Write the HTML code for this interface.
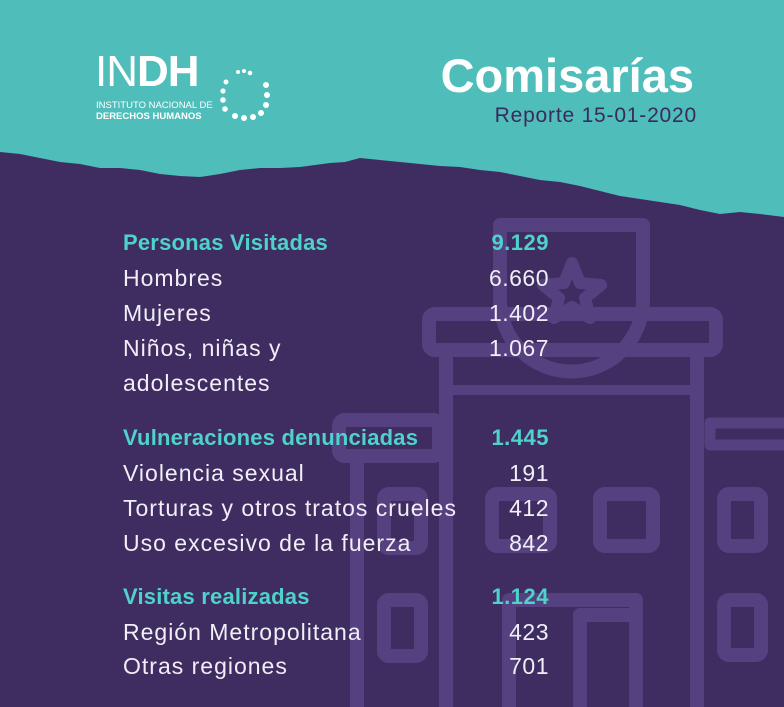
<!DOCTYPE html>
<html><head><meta charset="utf-8"><style>
html,body{margin:0;padding:0}
body{width:784px;height:707px;overflow:hidden;position:relative;background:#3f2d62;font-family:"Liberation Sans","DejaVu Sans",sans-serif}
svg{position:absolute;left:0;top:0}
.row{position:absolute;left:123px;width:426px;font-size:23px;letter-spacing:1px;color:#f1eef6;height:30px;line-height:30px;white-space:nowrap}
.row .v{position:absolute;right:0;top:0;letter-spacing:0.5px}
.h{color:#4fd2c9;font-weight:bold;font-size:22px;letter-spacing:0.2px}
</style></head><body>
<svg width="784" height="707">
  <rect x="0" y="0" width="784" height="707" fill="#3f2d62"/>
  <g fill="none" stroke="#55417f" stroke-width="14" stroke-linejoin="round">
    <path d="M500 225 H643 V300 A71 71 0 0 1 500 300 Z"/>
    <rect x="429" y="314" width="287" height="36" rx="6"/>
    <line x1="446" y1="357" x2="446" y2="707"/>
    <line x1="697" y1="357" x2="697" y2="707"/>
    <line x1="446" y1="390" x2="697" y2="390" stroke-width="10"/>
    <rect x="710" y="423" width="90" height="22" stroke-width="11"/>
    <rect x="339" y="420" width="100" height="36" rx="6"/>
    <line x1="357" y1="456" x2="357" y2="707"/>
    <rect x="492" y="494" width="58" height="52" rx="5"/>
    <rect x="600" y="494" width="53" height="52" rx="5"/>
    <rect x="724" y="494" width="37" height="52" rx="5"/>
    <rect x="724" y="600" width="37" height="55" rx="5"/>
    <rect x="384" y="494" width="37" height="54" rx="5"/>
    <rect x="384" y="600" width="37" height="56" rx="5"/>
    <path d="M509 707 V600 H636 V707"/>
    <path d="M580 707 V615 H630"/>
  </g>
  <path d="M572 263 L580 283 L601 285 L585 298 L590 318 L572 307 L554 318 L559 298 L543 285 L564 283 Z" fill="none" stroke="#55417f" stroke-width="12" stroke-linejoin="round"/>
  <path fill="#4fbdb9" d="M0 0 H784 V217 L760 214 L740 212 L720 214 L700 210 L680 205 L660 202 L640 199 L620 196 L600 191 L580 186 L560 182 L540 180 L520 176 L500 172 L480 170 L460 167 L440 166 L420 164 L400 162 L380 160 L360 158 L345 162 L330 163 L300 167 L280 168 L260 168 L240 170 L220 174 L200 177 L180 176 L160 174 L140 170 L120 168 L100 168 L80 164 L60 162 L40 158 L20 154 L0 152 Z"/>
</svg>
<div style="position:absolute;left:95px;top:50px;width:180px;height:75px">
  <div style="position:absolute;left:0;top:0;font-size:44px;line-height:44px;color:#fff;letter-spacing:-1px"><span style="font-weight:normal">IN</span><b>DH</b></div>
  <div style="position:absolute;left:1px;top:50px;font-size:9.5px;line-height:11px;color:#fff;white-space:nowrap">INSTITUTO NACIONAL DE<br><b>DERECHOS HUMANOS</b></div>
  <svg width="60" height="75" style="left:123px;top:10px" fill="#fff">
    <circle cx="20" cy="12" r="2"/><circle cx="26" cy="11" r="2"/><circle cx="32" cy="13" r="2.3"/><circle cx="8" cy="22" r="2.5"/><circle cx="5" cy="31" r="2.6"/><circle cx="5" cy="40" r="2.8"/><circle cx="7" cy="49" r="2.8"/><circle cx="48" cy="25" r="3"/><circle cx="49" cy="35" r="3"/><circle cx="48" cy="45" r="3"/><circle cx="43" cy="53" r="3"/><circle cx="35" cy="57" r="3"/><circle cx="26" cy="58" r="3"/><circle cx="17" cy="56" r="3"/>
  </svg>
</div>
<div style="position:absolute;right:90px;top:50px;font-size:47px;font-weight:bold;color:#fff;line-height:52px">Comisarías</div>
<div style="position:absolute;right:87px;top:103px;font-size:21px;letter-spacing:0.8px;color:#3c2a5d;line-height:26px">Reporte 15-01-2020</div>
<div class="row h" style="top:228px">Personas Visitadas<span class="v">9.129</span></div>
<div class="row" style="top:263px">Hombres<span class="v">6.660</span></div>
<div class="row" style="top:298px">Mujeres<span class="v">1.402</span></div>
<div class="row" style="top:333px">Niños, niñas y<span class="v">1.067</span></div>
<div class="row" style="top:368px">adolescentes</div>
<div class="row h" style="top:423px">Vulneraciones denunciadas<span class="v">1.445</span></div>
<div class="row" style="top:458px">Violencia sexual<span class="v">191</span></div>
<div class="row" style="top:493px">Torturas y otros tratos crueles<span class="v">412</span></div>
<div class="row" style="top:528px">Uso excesivo de la fuerza<span class="v">842</span></div>
<div class="row h" style="top:582px">Visitas realizadas<span class="v">1.124</span></div>
<div class="row" style="top:617px">Región Metropolitana<span class="v">423</span></div>
<div class="row" style="top:651px">Otras regiones<span class="v">701</span></div>
</body></html>
